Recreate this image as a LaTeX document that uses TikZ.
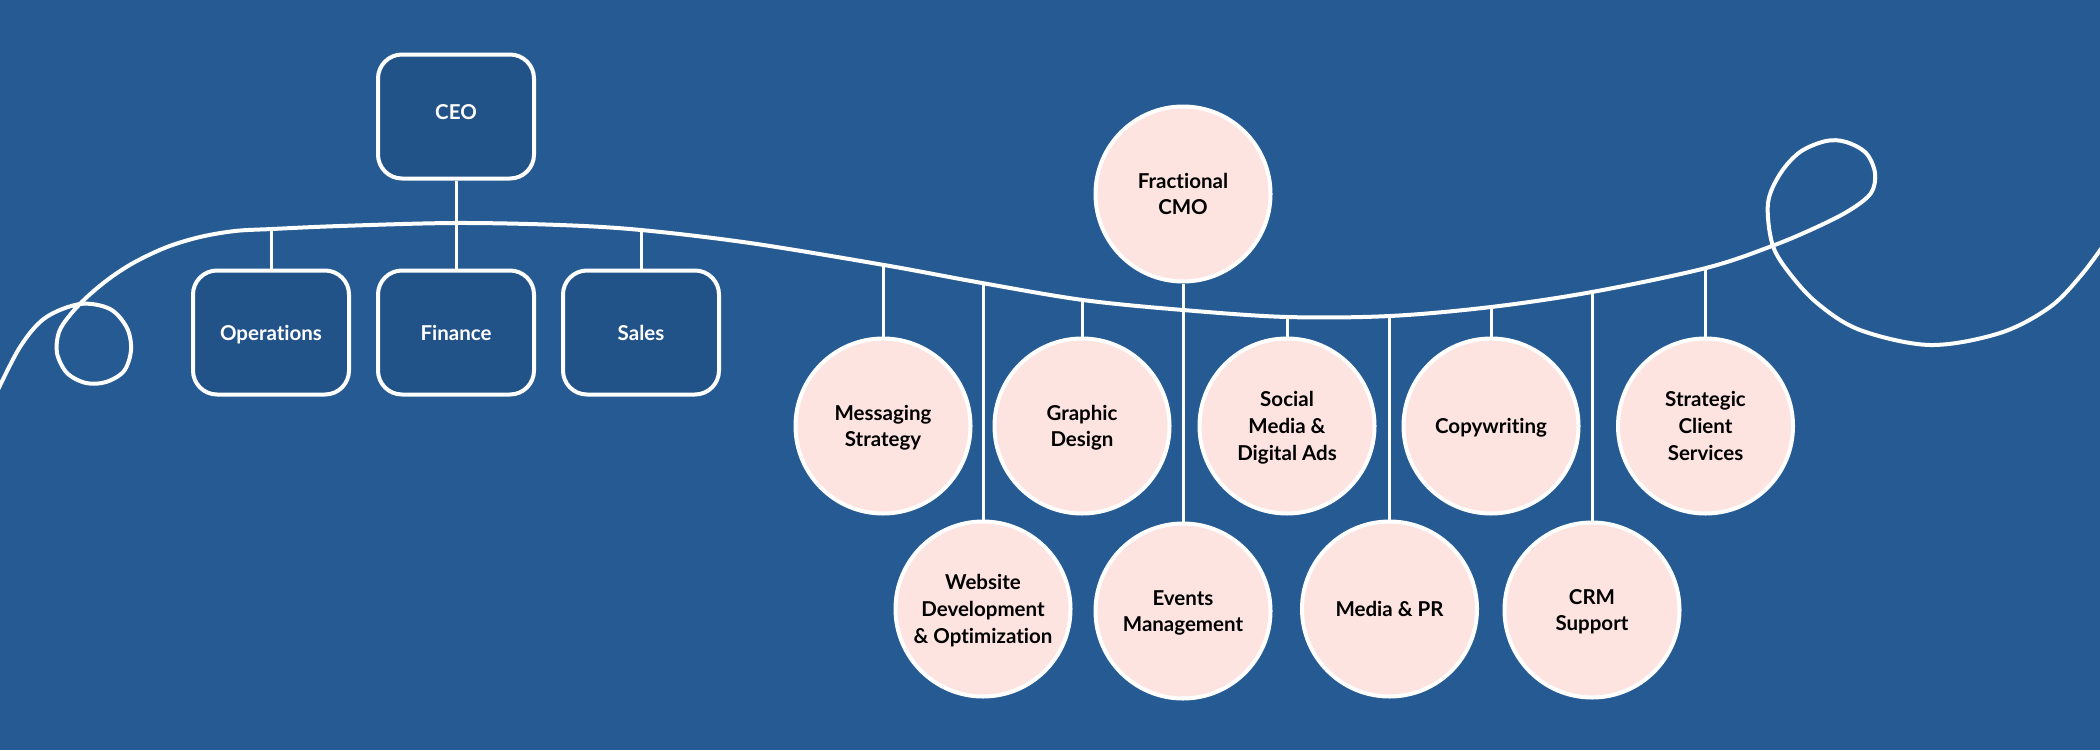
\documentclass[tikz,border=0pt]{standalone}
\usepackage{fontspec}
\setmainfont{Lato}[Ligatures=NoCommon]
\definecolor{bg}{HTML}{255A92}
\definecolor{boxfill}{HTML}{225388}
\definecolor{pinkfill}{HTML}{FDE4E1}
\newcommand\nodp[1]{\raisebox{0pt}[\height][0pt]{#1}}
\tikzset{
  box/.style={draw=white, line width=4pt, fill=boxfill, rounded corners=24pt,
    minimum width=156pt, minimum height=124pt, inner sep=0pt, text=white,
    font=\fontsize{20.5}{26.7}\selectfont\bfseries},
  bubble/.style={circle, draw=white, line width=4pt, fill=pinkfill, minimum size=175pt,
    inner sep=0pt, align=center, text=black, font=\fontsize{20.5}{26.7}\selectfont\bfseries},
  wire/.style={draw=white, line width=3pt},
  wave/.style={draw=white, line width=4pt, line cap=round, line join=round}
}
\begin{document}
\begin{tikzpicture}[x=1pt, y=-1pt]
\useasboundingbox (0,0) rectangle (2100,750);
\fill[bg] (0,0) rectangle (2100,750);
\begin{scope}
\clip (0,0) rectangle (2100,750);
\draw[wave] plot[smooth, tension=0.55] coordinates {
 (-4,394) (20,347) (45,318) (80,304) (110,309) (127,328) (131,350) (124,371)
 (106,382) (86,383) (67,373) (57,353) (59,332) (70,315) (87,297) (110,278)
 (135,262) (167,247) (200,237) (235,231) (272,229) (340,226) (455,223) (560,225)
 (641,230) (750,243) (884,265) (982,283) (1083,300) (1183,310) (1287,317)
 (1390,316) (1491,307) (1592,292) (1706,268) (1772,246) (1817,227) (1850,210)
 (1871,193) (1875,173) (1866,153) (1846,142) (1826,141) (1800,152) (1780,174)
 (1768,203) (1772,243) (1787,270) (1817,303) (1860,330) (1930,345) (2000,333)
 (2050,307) (2083,273) (2110,236)};
\end{scope}
% points on the wave where branches hang
\coordinate (wops) at (271,228.5);
\coordinate (wsales) at (641,229);
\coordinate (wmsg) at (883,264);
\coordinate (wweb) at (983,282);
\coordinate (wgfx) at (1082,299);
\coordinate (wsoc) at (1287,316);
\coordinate (wmed) at (1389.5,315);
\coordinate (wcopy) at (1491,306);
\coordinate (wcrm) at (1592,291);
\coordinate (wstrat) at (1705.5,267);
% nodes
\node[box] (ceo) at (456,116.5) {\raisebox{4pt}[\height][0pt]{CEO}};
\node[box] (ops) at (271,332.5) {\nodp{Operations}};
\node[box] (fin) at (456,332.5) {Finance};
\node[box] (sales) at (641,332.5) {Sales};
\node[bubble] (cmo) at (1183,194) {Fractional\\CMO};
\node[bubble] (msg) at (883,426) {Messaging\\\nodp{Strategy}};
\node[bubble] (gfx) at (1082,426) {Graphic\\\nodp{Design}};
\node[bubble] (soc) at (1287,426) {Social\\Media \&\\\nodp{Digital Ads}};
\node[bubble] (copy) at (1491,426) {\nodp{Copywriting}};
\node[bubble] (strat) at (1705.5,426) {Strategic\\Client\\Services};
\node[bubble] (web) at (983,609) {Website\\Development\\\nodp{\& Optimization}};
\node[bubble] (events) at (1183,611) {Events\\\nodp{Management}};
\node[bubble] (media) at (1389.5,609) {Media \& PR};
\node[bubble] (crm) at (1592,610) {CRM\\\nodp{Support}};
% connectors
\draw[wire] (ceo.south) -- (fin.north);
\draw[wire] (wops) -- (ops.north);
\draw[wire] (wsales) -- (sales.north);
\draw[wire] (cmo.south) -- (events.north);
\draw[wire] (wmsg) -- (msg.north);
\draw[wire] (wweb) -- (web.north);
\draw[wire] (wgfx) -- (gfx.north);
\draw[wire] (wsoc) -- (soc.north);
\draw[wire] (wmed) -- (media.north);
\draw[wire] (wcopy) -- (copy.north);
\draw[wire] (wcrm) -- (crm.north);
\draw[wire] (wstrat) -- (strat.north);
\end{tikzpicture}
\end{document}
